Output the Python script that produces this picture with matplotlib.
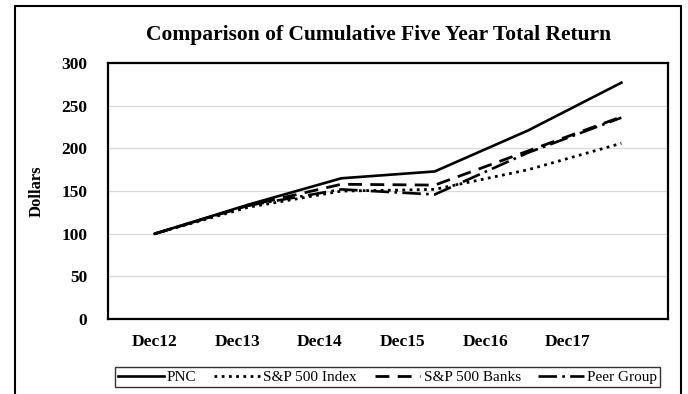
import matplotlib.pyplot as plt
import numpy as np
from matplotlib.patches import Rectangle

plt.rcParams['font.family'] = ['Liberation Serif', 'DejaVu Serif']

years = ['Dec12', 'Dec13', 'Dec14', 'Dec15', 'Dec16', 'Dec17']
pnc = [100, 134, 165, 173, 221, 277]
sp500 = [100, 131, 150, 152, 175, 206]
sp500_banks = [100, 133, 158, 157, 197, 237]
peer_group = [100, 133, 152, 146, 195, 236]

fig = plt.figure(figsize=(6.88, 3.94), dpi=100)
ax = fig.add_axes([0.157, 0.19, 0.814, 0.65])

x = np.arange(len(years))
ax.plot(x, pnc, color='black', lw=1.9, ls='-', label='PNC')
ax.plot(x, sp500, color='black', lw=2.0, ls=(0, (1, 1.6)), label='S&P 500 Index')
ax.plot(x, sp500_banks, color='black', lw=2.0, ls=(0, (5, 3)), label='S&P 500 Banks')
ax.plot(x, peer_group, color='black', lw=1.9, ls=(0, (7, 2, 1, 2)), label='Peer Group')

ax.set_xlim(-0.5, 5.5)
ax.set_ylim(0, 300)
ax.set_yticks(range(0, 301, 50))
ax.yaxis.grid(True, color='#d9d9d9', lw=0.9)
ax.set_axisbelow(True)
ax.tick_params(length=0)
ax.tick_params(axis='y', pad=15, labelsize=12.5)
ax.tick_params(axis='x', pad=11, labelsize=12.5)
# category labels sit a bit left of the data points, as in the original
ax.set_xticks(x * 0.885)
ax.set_xticklabels(years)
for lab in ax.get_xticklabels() + ax.get_yticklabels():
    lab.set_fontweight('bold')
for s in ax.spines.values():
    s.set_linewidth(1.6)
ax.set_ylabel('Dollars', fontsize=12, fontweight='bold', labelpad=12)

fig.text(0.55, 0.91, 'Comparison of Cumulative Five Year Total Return',
         ha='center', va='center', fontsize=15.5, fontweight='bold')

leg = fig.legend(loc='center', ncol=4, frameon=True, fancybox=False, fontsize=11,
                 handlelength=3.0, handletextpad=0.2, columnspacing=1.2,
                 borderpad=0.2, mode='expand',
                 bbox_to_anchor=(0.156, 0.015, 0.815, 0.055),
                 bbox_transform=fig.transFigure)
leg.get_frame().set_edgecolor('black')
leg.get_frame().set_linewidth(1.0)

fig.patches.append(Rectangle((0.022, -0.05), 0.968, 1.035, transform=fig.transFigure,
                             fill=False, edgecolor='black', lw=1.5))

fig.savefig('out.png', dpi=100)
